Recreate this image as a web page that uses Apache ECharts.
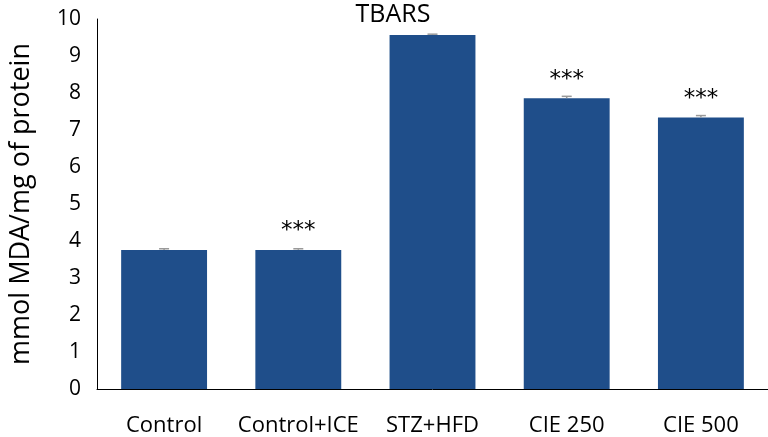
<!DOCTYPE html>
<html>
<head>
<meta charset="utf-8">
<script src="https://cdn.jsdelivr.net/npm/echarts@6/dist/echarts.min.js"></script>
<style>html,body{margin:0;padding:0;background:#fff}#c{width:768px;height:437px}</style>
</head>
<body>
<div id="c"></div>
<script>
var categories = ['Control', 'Control+ICE', 'STZ+HFD', 'CIE 250', 'CIE 500'];
var values = [3.76, 3.76, 9.57, 7.86, 7.34];
var errors = [0.03, 0.03, 0.02, 0.05, 0.05];
var marks = ['', '***', '', '***', '***'];
var yTicks = [0, 1, 2, 3, 4, 5, 6, 7, 8, 9, 10];

var font = 'Open Sans';
var chart = echarts.init(document.getElementById('c'));
chart.setOption({
  animation: false,
  title: {
    text: 'TBARS', left: 388, top: -3, textAlign: 'center',
    textStyle: { fontFamily: font, fontSize: 25, fontWeight: 'normal', color: '#000' }
  },
  grid: { left: 94, right: 0, top: 19, bottom: 43 },
  xAxis: {
    type: 'category', data: categories,
    axisLine: { lineStyle: { color: '#000', width: 1 } },
    axisTick: { show: false },
    axisLabel: { fontFamily: font, fontSize: 22, color: '#000', margin: 26, interval: 0 }
  },
  yAxis: {
    type: 'value', min: yTicks[0], max: yTicks[yTicks.length - 1], interval: 1,
    name: 'mmol MDA/mg of protein', nameLocation: 'middle', nameGap: 62,
    nameTextStyle: { fontFamily: font, fontSize: 27, color: '#000' },
    axisLine: { show: true, lineStyle: { color: '#000', width: 1 } },
    axisTick: { show: false },
    splitLine: { show: false },
    axisLabel: { fontFamily: font, fontSize: 21, color: '#000', margin: 16, padding: [0, 0, 4, 0] }
  },
  series: [
    {
      type: 'bar', data: values, barCategoryGap: '36%',
      itemStyle: { color: '#1F4E8A' },
      label: {
        show: true, position: 'top', distance: 7,
        formatter: function (p) { return marks[p.dataIndex]; },
        fontFamily: 'DejaVu Sans', fontSize: 23, color: '#000'
      }
    },
    {
      type: 'custom', z: 5,
      data: values.map(function (v, i) { return [i, v, errors[i]]; }),
      renderItem: function (params, api) {
        var x = api.value(0), v = api.value(1), e = api.value(2);
        var top = api.coord([x, v + e]);
        var bot = api.coord([x, v]);
        var w = 5;
        return {
          type: 'group',
          children: [
            { type: 'line', shape: { x1: top[0], y1: top[1], x2: bot[0], y2: bot[1] }, style: { stroke: '#999999', lineWidth: 1.5 } },
            { type: 'line', shape: { x1: top[0] - w, y1: top[1], x2: top[0] + w, y2: top[1] }, style: { stroke: '#999999', lineWidth: 1.5 } }
          ]
        };
      }
    }
  ]
});
</script>
</body>
</html>
